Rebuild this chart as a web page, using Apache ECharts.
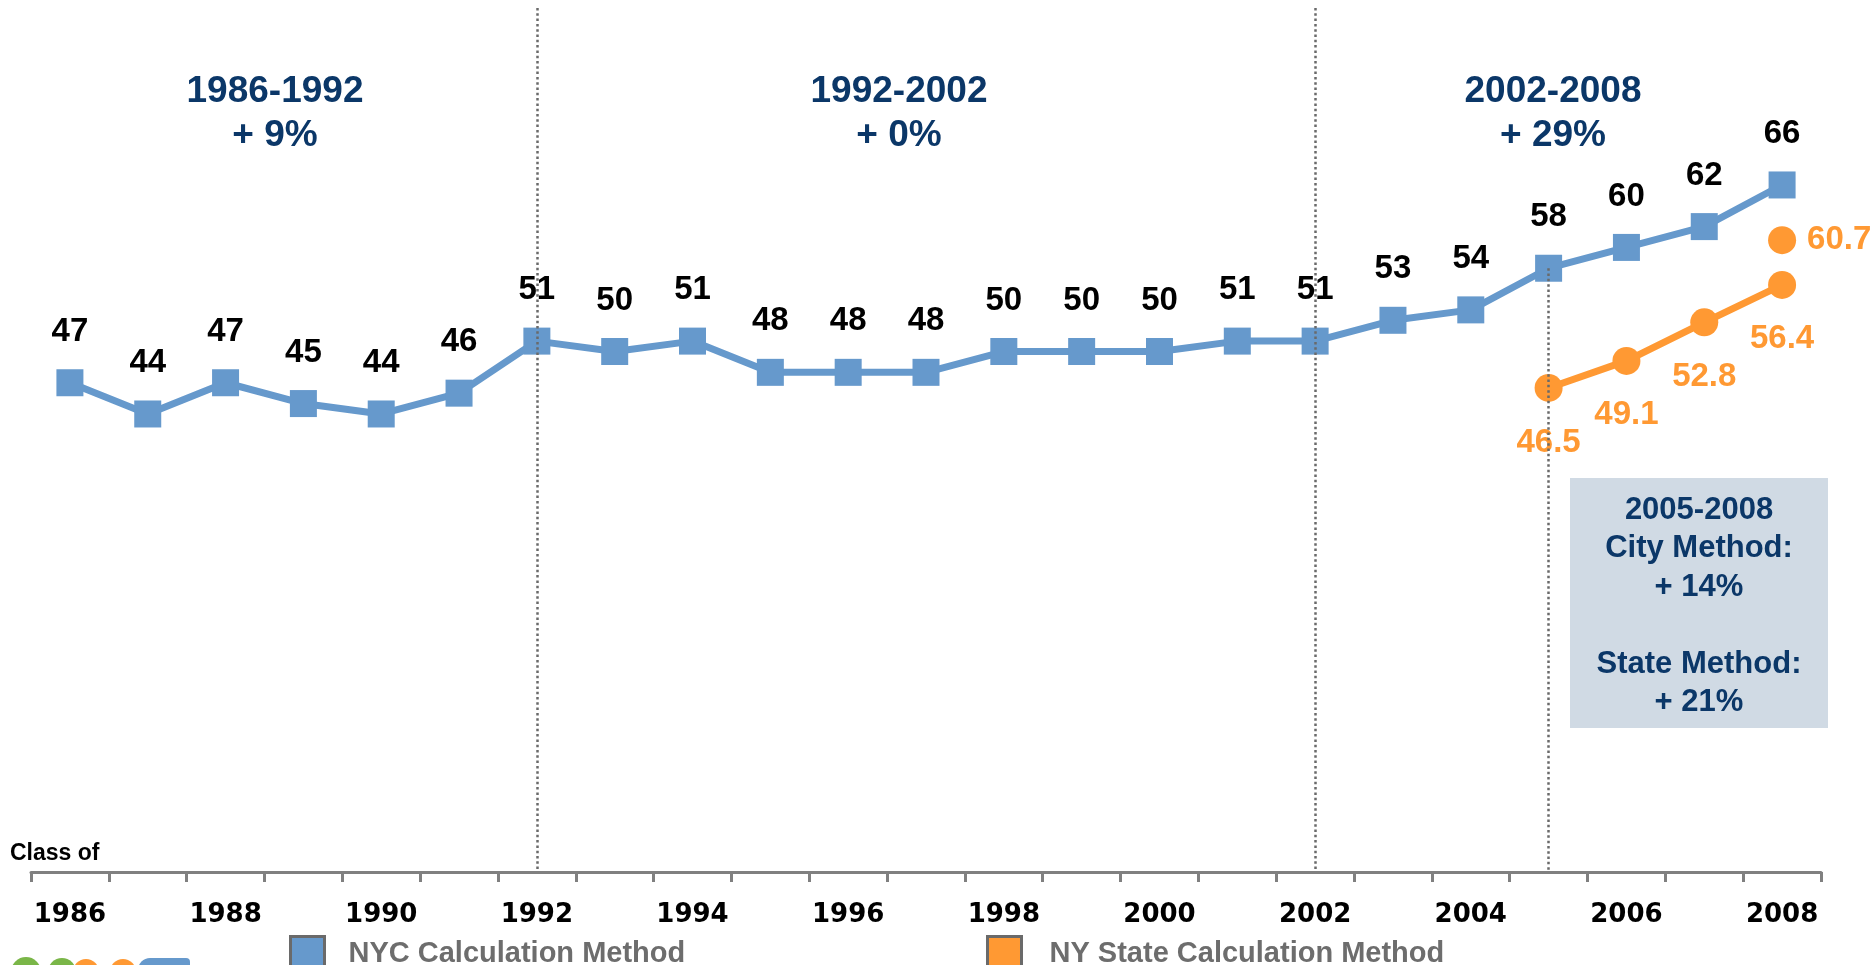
<!DOCTYPE html>
<html>
<head>
<meta charset="utf-8">
<title>Graduation rate</title>
<script src="https://cdn.jsdelivr.net/npm/echarts@6/dist/echarts.min.js"></script>
<style>
    html, body { margin: 0; padding: 0; background: #fff; }
    #main { width: 1870px; height: 965px; }
</style>
</head>
<body>
<div id="main"></div>
<script>
// 毕业年份
var years = ['1986', '1987', '1988', '1989', '1990', '1991', '1992', '1993', '1994', '1995', '1996', '1997',
    '1998', '1999', '2000', '2001', '2002', '2003', '2004', '2005', '2006', '2007', '2008'];
// 市口径
var cityRates = [47, 44, 47, 45, 44, 46, 51, 50, 51, 48, 48, 48, 50, 50, 50, 51, 51, 53, 54, 58, 60, 62, 66];
// 州口径
var stateRates = [null, null, null, null, null, null, null, null, null, null, null, null,
    null, null, null, null, null, null, null, 46.5, 49.1, 52.8, 56.4];
// 2008 单独的点
var stateExtra = [null, null, null, null, null, null, null, null, null, null, null, null,
    null, null, null, null, null, null, null, null, null, null, 60.7];
// 分段线所在年份
var dividerYears = ['1992', '2002'];

var navy = '#0b3768';
var blue = '#6699cc';
var orange = '#ff9933';
var arial = 'Arial, "Liberation Sans"';

var dottedStyle = {color: '#6a6a6a', type: [2.5, 2.8], width: 2.5};

var markLines = [];
for (var i = 0; i < dividerYears.length; i++) {
    markLines.push([{coord: [dividerYears[i], 83]}, {coord: [dividerYears[i], 0]}]);
}
markLines.push([{coord: ['2005', 58]}, {coord: ['2005', 0]}]);

function legendOf(name, left, gap) {
    return {
        left: left,
        top: 930,
        icon: 'rect',
        itemWidth: 34,
        itemHeight: 34,
        itemStyle: {borderColor: '#6a6a6a', borderWidth: 3},
        textStyle: {color: '#6d6d6d', fontFamily: arial, fontWeight: 'bold', fontSize: 29, padding: [0, 0, 0, gap]},
        data: [name]
    };
}

var option = {
    animation: false,
    backgroundColor: '#fff',
    grid: {left: 31, right: 49, top: 8, bottom: 93},
    xAxis: {
        type: 'category',
        data: years,
        boundaryGap: true,
        axisLine: {show: true, lineStyle: {color: '#808080', width: 3}},
        axisTick: {show: true, interval: 0, length: 10, lineStyle: {color: '#808080', width: 3}},
        axisLabel: {
            interval: 1,
            margin: 30,
            color: '#000',
            fontFamily: '"DejaVu Sans"',
            fontWeight: 'bold',
            fontSize: 26
        }
    },
    yAxis: {
        type: 'value',
        min: 0,
        max: 83,
        show: false,
        splitLine: {show: false}
    },
    legend: [
        legendOf('NYC Calculation Method', 284, 19),
        legendOf('NY State Calculation Method', 981, 23)
    ],
    series: [{
        name: 'NYC Calculation Method',
        type: 'line',
        data: cityRates,
        symbol: 'rect',
        symbolSize: 27,
        lineStyle: {color: blue, width: 7},
        itemStyle: {color: blue},
        label: {
            show: true,
            position: 'top',
            distance: 21,
            color: '#000',
            fontFamily: arial,
            fontWeight: 'bold',
            fontSize: 33
        }
    }, {
        name: 'NY State Calculation Method',
        type: 'line',
        data: stateRates,
        symbol: 'circle',
        symbolSize: 28,
        lineStyle: {color: orange, width: 7},
        itemStyle: {color: orange},
        label: {
            show: true,
            position: 'bottom',
            distance: 24,
            color: orange,
            fontFamily: arial,
            fontWeight: 'bold',
            fontSize: 33
        }
    }, {
        name: 'State 2008',
        type: 'line',
        data: stateExtra,
        z: 5,
        symbol: 'circle',
        symbolSize: 28,
        lineStyle: {width: 0},
        itemStyle: {color: orange},
        label: {
            show: true,
            position: 'right',
            distance: 11,
            color: orange,
            fontFamily: arial,
            fontWeight: 'bold',
            fontSize: 33
        },
        markLine: {
            silent: true,
            symbol: ['none', 'none'],
            label: {show: false},
            lineStyle: dottedStyle,
            data: markLines
        }
    }],
    graphic: [
        // 区间说明
        {
            type: 'text', x: 275, y: 70, style: {
                text: '1986-1992\n+ 9%', align: 'center', lineHeight: 44,
                fill: navy, font: 'bold 37px ' + arial
            }
        },
        {
            type: 'text', x: 899, y: 70, style: {
                text: '1992-2002\n+ 0%', align: 'center', lineHeight: 44,
                fill: navy, font: 'bold 37px ' + arial
            }
        },
        {
            type: 'text', x: 1553, y: 70, style: {
                text: '2002-2008\n+ 29%', align: 'center', lineHeight: 44,
                fill: navy, font: 'bold 37px ' + arial
            }
        },
        {
            type: 'rect', shape: {x: 1570, y: 478, width: 258, height: 250},
            style: {fill: '#d0dae4'}
        },
        {
            type: 'text', x: 1699, y: 491, style: {
                text: '2005-2008\nCity Method:\n+ 14%\n\nState Method:\n+ 21%', align: 'center', lineHeight: 38.5,
                fill: navy, font: 'bold 31px ' + arial
            }
        },
        {
            type: 'text', x: 10, y: 842, style: {
                text: 'Class of', fill: '#000', font: 'bold 23px ' + arial
            }
        },
        // 左下角标志
        {type: 'circle', shape: {cx: 26, cy: 972, r: 15}, style: {fill: '#7ab648'}},
        {type: 'circle', shape: {cx: 62, cy: 972, r: 14}, style: {fill: '#7ab648'}},
        {type: 'circle', shape: {cx: 86, cy: 972, r: 13}, style: {fill: orange}},
        {type: 'circle', shape: {cx: 123, cy: 972, r: 13}, style: {fill: orange}},
        {type: 'rect', shape: {x: 138, y: 958, width: 52, height: 20, r: [12, 4, 0, 0]}, style: {fill: blue}}
    ]
};

var myChart = echarts.init(document.getElementById('main'));
myChart.setOption(option);
</script>
</body>
</html>
